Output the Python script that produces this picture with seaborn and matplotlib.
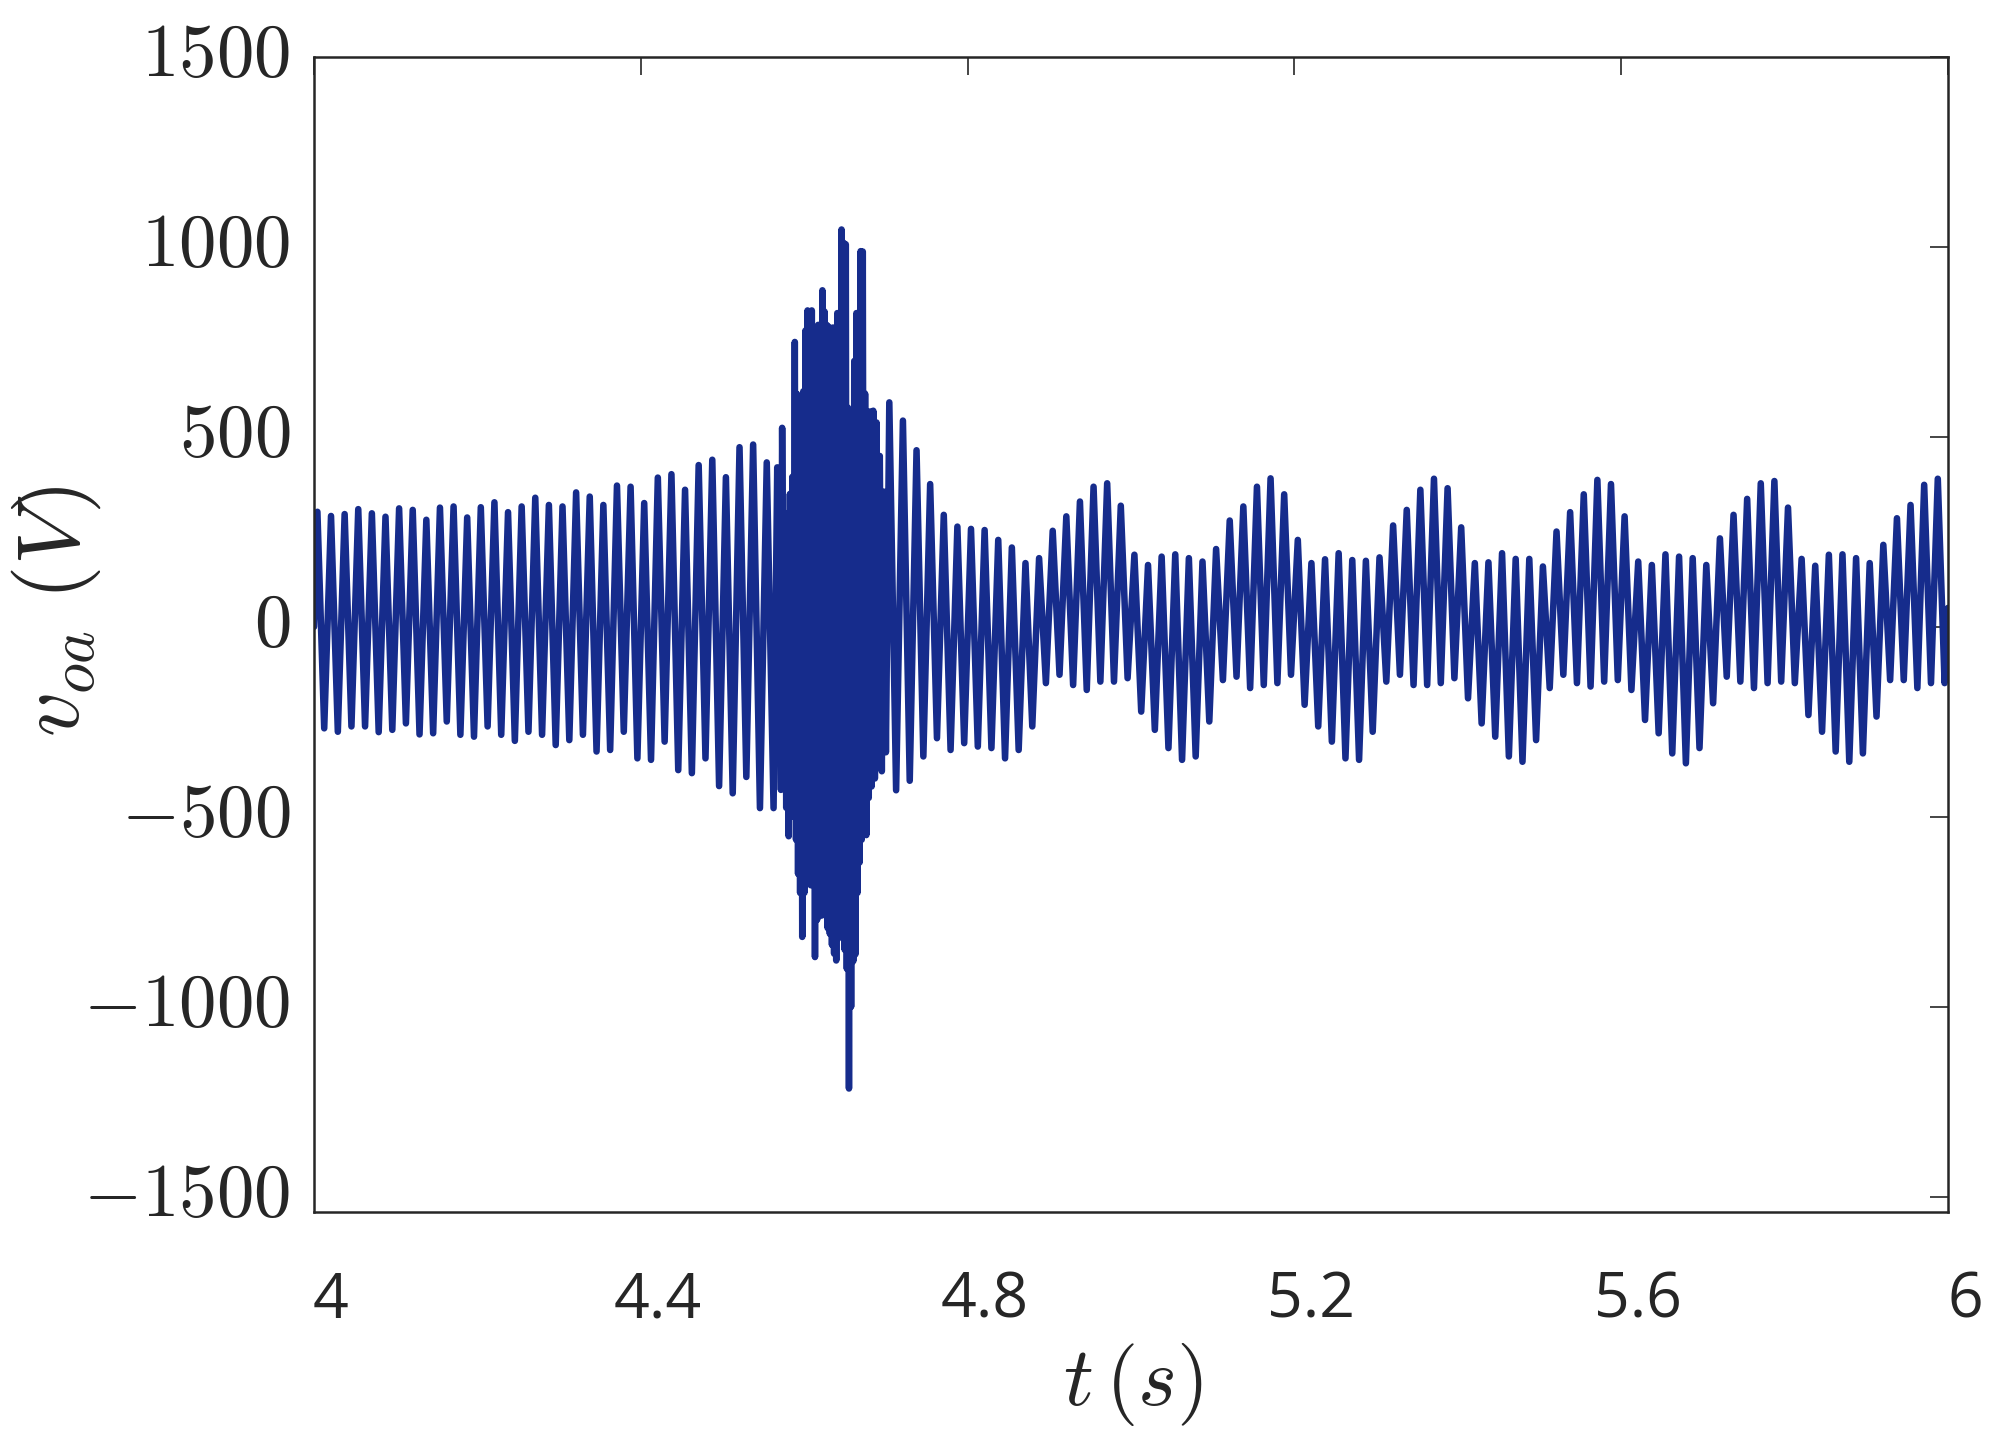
import numpy as np
import matplotlib
matplotlib.use("Agg")
import matplotlib.pyplot as plt
import matplotlib.transforms as mtransforms
import seaborn as sns

# ---------------- data ----------------
# positive extremum of each 60 Hz cycle (V), cycles 0..119 (t = 4 .. 6 s)
peaks = [303, 292, 297, 310, 299, 290, 312, 308, 282, 314, 317, 288, 315, 328, 302,
         317, 340, 321, 317, 354, 343, 321, 372, 369, 326, 393, 402, 361, 426, 440,
         394, 473, 480, 433, 524, 751, 834, 886, 826, 1046, 988, 567, 591, 543, 465,
         376, 295, 264, 258, 255, 229, 209, 168, 181, 253, 291, 330, 369, 378, 319,
         190, 163, 185, 191, 181, 172, 205, 280, 317, 369, 391, 349, 229, 168, 178,
         194, 176, 174, 183, 267, 308, 361, 390, 365, 262, 168, 170, 194, 179, 179,
         159, 251, 302, 349, 387, 376, 291, 172, 163, 191, 185, 181, 163, 233, 295,
         337, 378, 384, 314, 179, 161, 190, 191, 181, 168, 216, 286, 321, 374, 390]
# negative extremum of each cycle (V)
troughs = [-267, -276, -262, -262, -277, -271, -254, -283, -280, -249, -284, -289, -262, -284, -300,
           -276, -284, -311, -298, -284, -328, -324, -276, -346, -350, -302, -377, -385, -346, -419,
           -438, -395, -477, -477, -556, -822, -878, -878, -1215, -862, -548, -399, -430, -405, -341,
           -293, -324, -306, -315, -319, -346, -324, -262, -148, -126, -153, -166, -144, -144, -135,
           -223, -271, -319, -350, -341, -249, -140, -131, -161, -153, -148, -126, -205, -262, -302,
           -346, -350, -276, -144, -126, -153, -153, -148, -135, -188, -254, -289, -341, -355, -298,
           -161, -126, -148, -157, -144, -140, -166, -245, -280, -333, -359, -319, -201, -131, -144,
           -161, -148, -144, -148, -232, -276, -328, -355, -333, -236, -140, -140, -161, -148, -148]
f_grid = 60.0          # fundamental of the waveform (Hz)
t_start, v_start = 4.0, 0.0
t_end, v_end = 6.0, 50.0

# high-frequency transient around t = 4.57 .. 4.70 s
burst_t = [4.5670, 4.5685, 4.5700, 4.5715, 4.5730, 4.5750, 4.5765, 4.5780, 4.5795, 4.5810,
           4.5825, 4.5840, 4.5855, 4.5870, 4.5885, 4.5900, 4.5912, 4.5925, 4.5938, 4.5950,
           4.5963, 4.5976, 4.5989, 4.6002, 4.6015, 4.6028, 4.6041, 4.6054, 4.6067, 4.6080,
           4.6093, 4.6106, 4.6119, 4.6132, 4.6145, 4.6158, 4.6171, 4.6184, 4.6197, 4.6210,
           4.6223, 4.6236, 4.6249, 4.6262, 4.6275, 4.6288, 4.6301, 4.6314, 4.6327, 4.6340,
           4.6353, 4.6366, 4.6379, 4.6392, 4.6405, 4.6418, 4.6431, 4.6444, 4.6457, 4.6470,
           4.6483, 4.6496, 4.6509, 4.6522, 4.6535, 4.6548, 4.6561, 4.6574, 4.6587, 4.6600,
           4.6613, 4.6626, 4.6639, 4.6652, 4.6665, 4.6678, 4.6691, 4.6704, 4.6717, 4.6730,
           4.6745, 4.6760, 4.6775, 4.6790, 4.6805, 4.6825, 4.6845, 4.6865, 4.6885, 4.6905,
           4.6925, 4.6950, 4.6975, 4.7000]
burst_v = [420, -300, 387, -429, 524, -200, 300, -476, 200, -551,
           350, -420, 395, -500, 750, -560, 613, -650, 560, -700,
           470, -816, 620, -700, 780, -620, 833, -551, 760, -680,
           833, -642, 720, -869, 760, -771, 795, -720, 780, -760,
           886, -680, 830, -760, 795, -793, 790, -808, 760, -837,
           788, -860, 770, -878, 826, -820, 800, -760, 1046, -800,
           1011, -850, 1007, -900, 577, -1215, 560, -1000, 546, -880,
           700, -862, 826, -700, 760, -620, 989, -560, 988, -500,
           614, -548, 500, -450, 567, -420, 569, -399, 538, -300,
           450, -380, 356, -330]

x_ticks = [4, 4.4, 4.8, 5.2, 5.6, 6]
x_ticklabels = ["4", "4.4", "4.8", "5.2", "5.6", "6"]
y_ticks = [-1500, -1000, -500, 0, 500, 1000, 1500]

# ---------------- assemble series ----------------
k = np.arange(len(peaks))
t_all = np.concatenate([[t_start], 4.0 + (k + 0.25) / f_grid, 4.0 + (k + 0.75) / f_grid, [t_end]])
v_all = np.concatenate([[v_start], peaks, troughs, [v_end]]).astype(float)
keep = (t_all < burst_t[0]) | (t_all > burst_t[-1])
t_all = np.concatenate([t_all[keep], burst_t])
v_all = np.concatenate([v_all[keep], burst_v])
order = np.argsort(t_all)
t_all, v_all = t_all[order], v_all[order]

# ---------------- plot ----------------
sns.set_style("white")
plt.rcParams["mathtext.fontset"] = "cm"
plt.rcParams["font.family"] = ["Open Sans", "DejaVu Sans"]

W, H, DPI = 1994, 1444, 200
fig = plt.figure(figsize=(W / DPI, H / DPI), dpi=DPI)
ax = fig.add_axes([314 / W, 1 - 1212 / H, (1948 - 314) / W, (1212 - 57) / H])

sns.lineplot(x=t_all, y=v_all, estimator=None, sort=False, color="#162c8c",
             linewidth=2.35, ax=ax)
for ln in ax.lines:
    ln.set_solid_joinstyle("round")

ax.set_xlim(4, 6)
ax.set_ylim(-1540, 1500)

ink = "#262626"
for s in ax.spines.values():
    s.set_visible(True)
    s.set_color(ink)
    s.set_linewidth(0.9)

ax.set_xticks(x_ticks)
ax.set_xticklabels(x_ticklabels, fontsize=22.5, color=ink, family=["Open Sans", "DejaVu Sans"])
ax.set_yticks(y_ticks)
ax.set_yticklabels([f"${v}$" for v in y_ticks], fontsize=27, color=ink)

ax.tick_params(axis="both", which="major", direction="in", length=6.5, width=0.6,
               color=ink, top=True, right=True)
ax.tick_params(axis="x", pad=21)
ax.tick_params(axis="y", pad=8.5)

# shift x tick labels slightly to the right and y tick labels up, as in the reference
offx = mtransforms.ScaledTranslation(17 / DPI, 0, fig.dpi_scale_trans)
for lbl in ax.get_xticklabels():
    lbl.set_transform(lbl.get_transform() + offx)
offy = mtransforms.ScaledTranslation(0, 9 / DPI, fig.dpi_scale_trans)
for lbl in ax.get_yticklabels():
    lbl.set_transform(lbl.get_transform() + offy)

ax.set_xlabel(r"$t\,(s)$", fontsize=30, color=ink)
ax.set_ylabel(r"$v_{oa}\ (V)$", fontsize=32, color=ink)
ax.xaxis.set_label_coords(0.501, -0.112)
ax.xaxis.label.set_va("top")
ax.yaxis.set_label_coords(-0.129, 0.52)

fig.savefig("out.png", dpi=DPI)
